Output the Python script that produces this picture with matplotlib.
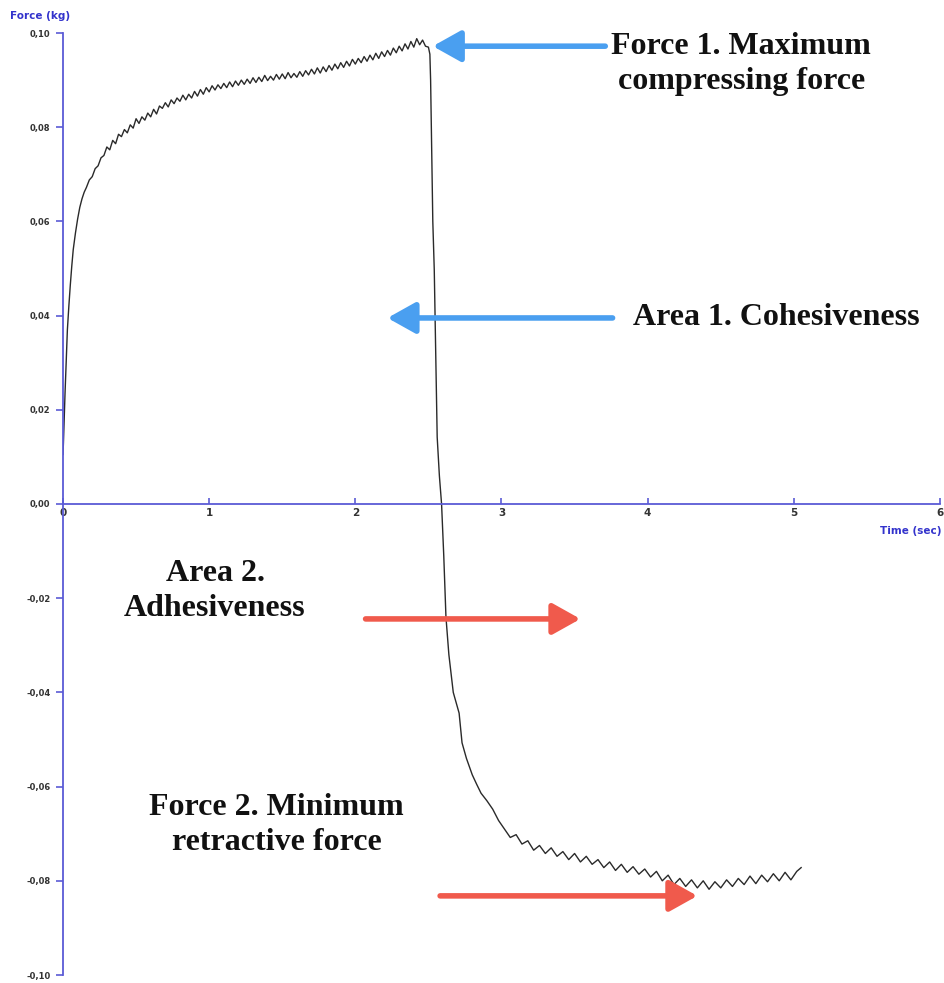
import matplotlib
matplotlib.use("Agg")
import matplotlib.pyplot as plt
from matplotlib.ticker import FuncFormatter

# force curve
time_s = [
    0.000, 0.003, 0.008, 0.014, 0.022, 0.030, 0.040, 0.050, 0.060, 0.070,
    0.085, 0.100, 0.115, 0.130, 0.145, 0.160, 0.180, 0.200, 0.220, 0.240,
    0.260, 0.280, 0.300, 0.320, 0.340, 0.360, 0.380, 0.400, 0.420, 0.440,
    0.460, 0.480, 0.500, 0.520, 0.540, 0.560, 0.580, 0.600, 0.620, 0.640,
    0.660, 0.680, 0.700, 0.720, 0.740, 0.760, 0.780, 0.800, 0.820, 0.840,
    0.860, 0.880, 0.900, 0.920, 0.940, 0.960, 0.980, 1.000, 1.020, 1.040,
    1.060, 1.080, 1.100, 1.120, 1.140, 1.160, 1.180, 1.200, 1.220, 1.240,
    1.260, 1.280, 1.300, 1.320, 1.340, 1.360, 1.380, 1.400, 1.420, 1.440,
    1.460, 1.480, 1.500, 1.520, 1.540, 1.560, 1.580, 1.600, 1.620, 1.640,
    1.660, 1.680, 1.700, 1.720, 1.740, 1.760, 1.780, 1.800, 1.820, 1.840,
    1.860, 1.880, 1.900, 1.920, 1.940, 1.960, 1.980, 2.000, 2.020, 2.040,
    2.060, 2.080, 2.100, 2.120, 2.140, 2.160, 2.180, 2.200, 2.220, 2.240,
    2.260, 2.280, 2.300, 2.320, 2.340, 2.360, 2.380, 2.400, 2.420, 2.440,
    2.460, 2.480, 2.500, 2.510,
    2.515, 2.520, 2.525, 2.530, 2.540, 2.550, 2.560, 2.575, 2.590, 2.605,
    2.620, 2.640, 2.670, 2.710, 2.730, 2.760, 2.800, 2.830, 2.860,
    2.90, 2.94, 2.98, 3.02, 3.06, 3.10, 3.14, 3.18, 3.22, 3.26,
    3.30, 3.34, 3.38, 3.42, 3.46, 3.50, 3.54, 3.58, 3.62, 3.66,
    3.70, 3.74, 3.78, 3.82, 3.86, 3.90, 3.94, 3.98, 4.02, 4.06,
    4.10, 4.14, 4.18, 4.22, 4.26, 4.30, 4.34, 4.38, 4.42, 4.46,
    4.50, 4.54, 4.58, 4.62, 4.66, 4.70, 4.74, 4.78, 4.82, 4.86,
    4.90, 4.94, 4.98, 5.02, 5.05,
]
force_kg = [
    0.0105, 0.0130, 0.0180, 0.0236, 0.0300, 0.0370, 0.0420, 0.0465, 0.0505, 0.0540,
    0.0575, 0.0605, 0.0630, 0.0648, 0.0662, 0.0672, 0.0688, 0.0695, 0.0712, 0.0718,
    0.0735, 0.0740, 0.0758, 0.0752, 0.0772, 0.0765, 0.0785, 0.0780, 0.0795, 0.0788,
    0.0805, 0.0798, 0.0818, 0.0808, 0.0822, 0.0815, 0.0830, 0.0822, 0.0838, 0.0828,
    0.0845, 0.0840, 0.0852, 0.0843, 0.0858, 0.0850, 0.0862, 0.0855, 0.0868, 0.0858,
    0.0870, 0.0862, 0.0876, 0.0866, 0.0880, 0.0870, 0.0884, 0.0875, 0.0888, 0.0879,
    0.0890, 0.0882, 0.0893, 0.0884, 0.0896, 0.0886, 0.0898, 0.0889, 0.0900, 0.0891,
    0.0902, 0.0893, 0.0905, 0.0895, 0.0906, 0.0897, 0.0910, 0.0899, 0.0908, 0.0900,
    0.0912, 0.0902, 0.0913, 0.0903, 0.0916, 0.0905, 0.0914, 0.0906, 0.0918, 0.0908,
    0.0920, 0.0911, 0.0923, 0.0913, 0.0926, 0.0915, 0.0928, 0.0918, 0.0931, 0.0921,
    0.0934, 0.0924, 0.0937, 0.0927, 0.0940, 0.0930, 0.0944, 0.0934, 0.0946, 0.0937,
    0.0950, 0.0940, 0.0953, 0.0943, 0.0957, 0.0946, 0.0960, 0.0950, 0.0963, 0.0953,
    0.0968, 0.0958, 0.0972, 0.0962, 0.0977, 0.0966, 0.0982, 0.0970, 0.0988, 0.0975,
    0.0985, 0.0972, 0.0970, 0.0955,
    0.0900, 0.0800, 0.0700, 0.0600, 0.0497, 0.0320, 0.0142, 0.0060, 0.0000, -0.0110,
    -0.0240, -0.0320, -0.0400, -0.0444, -0.0507, -0.0540, -0.0575, -0.0595, -0.0614,
    -0.0630, -0.0648, -0.0672, -0.0690, -0.0708, -0.0702, -0.0722, -0.0715, -0.0735, -0.0725,
    -0.0742, -0.0730, -0.0748, -0.0738, -0.0755, -0.0742, -0.0760, -0.0748, -0.0765, -0.0755,
    -0.0772, -0.0760, -0.0778, -0.0765, -0.0782, -0.0770, -0.0786, -0.0775, -0.0792, -0.0780,
    -0.0800, -0.0788, -0.0808, -0.0795, -0.0812, -0.0798, -0.0815, -0.0800, -0.0818, -0.0802,
    -0.0815, -0.0798, -0.0812, -0.0795, -0.0808, -0.0790, -0.0806, -0.0788, -0.0802, -0.0785,
    -0.0800, -0.0782, -0.0798, -0.0780, -0.0772,
]

x_ticks = [0, 1, 2, 3, 4, 5, 6]
y_ticks = [-0.10, -0.08, -0.06, -0.04, -0.02, 0.00, 0.02, 0.04, 0.06, 0.08, 0.10]

AXIS_BLUE = "#5b5bd6"
ARROW_BLUE = "#4a9ff0"
ARROW_RED = "#f05a4c"

fig = plt.figure(figsize=(9.45, 9.83), dpi=100)
ax = fig.add_axes([63 / 945, 8 / 983, 877 / 945, 942 / 983])

ax.plot(time_s, force_kg, color="#2a2a2a", lw=1.0)

ax.set_xlim(0, 6)
ax.set_ylim(-0.10, 0.10)

for side in ["top", "right"]:
    ax.spines[side].set_visible(False)
ax.spines["bottom"].set_position(("data", 0))
for side in ["left", "bottom"]:
    ax.spines[side].set_color(AXIS_BLUE)
    ax.spines[side].set_linewidth(1.3)

ax.set_xticks(x_ticks)
ax.set_yticks(y_ticks)
ax.yaxis.set_major_formatter(FuncFormatter(lambda v, p: f"{v:.2f}".replace(".", ",").replace("-0,00", "0,00")))
ax.tick_params(axis="y", direction="out", length=5, width=1.2, color=AXIS_BLUE,
               labelsize=6, pad=4)
ax.tick_params(axis="x", direction="in", length=4, width=1.2, color=AXIS_BLUE,
               labelsize=7.5, pad=3)
for lab in ax.get_yticklabels() + ax.get_xticklabels():
    lab.set_fontweight("bold")
    lab.set_color("#333333")

fig.text(10 / 945, 1 - 16 / 983, "Force (kg)", color="#3333cc", fontsize=7.5,
         fontweight="bold", va="center", ha="left")
fig.text(942 / 945, 1 - 531 / 983, "Time (sec)", color="#3333cc", fontsize=7.5,
         fontweight="bold", va="center", ha="right")

label_font = dict(family="Liberation Serif", fontsize=23, fontweight="bold",
                  color="#111111", ha="center", va="center", linespacing=1.25)
ax.text(4.64, 0.0934, "Force 1. Maximum\ncompressing force", **label_font)
ax.text(4.88, 0.0395, "Area 1. Cohesiveness", **label_font)
ax.text(1.04, -0.0185, "Area 2.\nAdhesiveness", **label_font)
ax.text(1.46, -0.0682, "Force 2. Minimum\nretractive force", **label_font)


def arrow(tail, tip, color):
    ax.annotate("", xy=tip, xytext=tail,
                arrowprops=dict(arrowstyle="-|>,head_length=1.7,head_width=0.95",
                                color=color, lw=4, shrinkA=0, shrinkB=0))


arrow((3.71, 0.0972), (2.53, 0.0972), ARROW_BLUE)
arrow((3.76, 0.0395), (2.22, 0.0395), ARROW_BLUE)
arrow((2.07, -0.0244), (3.54, -0.0244), ARROW_RED)
arrow((2.58, -0.0832), (4.34, -0.0832), ARROW_RED)

fig.savefig("out.png", dpi=100)
